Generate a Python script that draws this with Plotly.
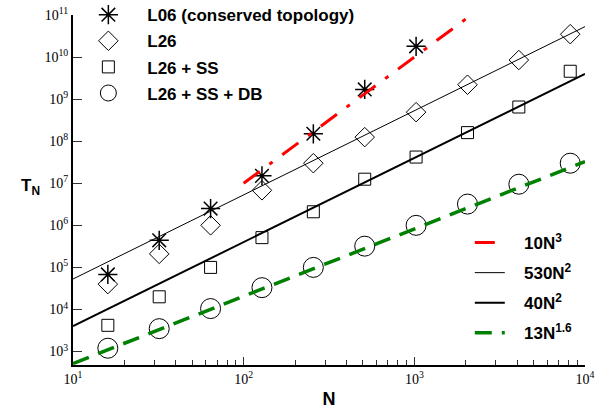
import plotly.graph_objects as go

# ---- data ----
N_all = [16, 32, 64, 128, 256, 512, 1024, 2048, 4096, 8192]
N_l06 = [16, 32, 64, 128, 256, 512, 1024]
T_l06 = [6.8e4, 4.4e5, 2.5e6, 1.5e7, 1.5e8, 1.7e9, 1.8e10]
T_l26 = [4.0e4, 2.1e5, 1.0e6, 6.8e6, 3.0e7, 1.25e8, 4.9e8, 2.2e9, 8.5e9, 3.5e10]
T_ss = [4.2e3, 2.0e4, 1.0e5, 5.1e5, 2.1e6, 1.25e7, 4.2e7, 1.6e8, 6.5e8, 4.6e9]
T_db = [1.2e3, 3.5e3, 1.05e4, 3.3e4, 1.0e5, 3.2e5, 1.0e6, 3.2e6, 9.5e6, 3.0e7]

# fit lines (power laws, drawn between end points)
fit3_N = [100, 2154]
fit3_T = [1.0e7, 1.0e11]          # 10 N^3
fitA_N = [10, 10000]
fitA_T = [5.3e4, 5.3e10]          # 530 N^2
fitB_N = [10, 10000]
fitB_T = [4.0e3, 4.0e9]           # 40 N^2
fitC_N = [10, 10000]
fitC_T = [518, 3.27e7]            # 13 N^1.6

x_ticks = [10, 100, 1000, 10000]
x_ticktext = ["10<sup>1</sup>", "10<sup>2</sup>", "10<sup>3</sup>", "10<sup>4</sup>"]
y_ticks = [10 ** k for k in range(3, 12)]
y_ticktext = ["10<sup>%d</sup>" % k for k in range(3, 12)]

SP = "\u00a0" * 4
SP2 = "\u00a0" * 3

fig = go.Figure()

mk_line = dict(color="black", width=1)
fig.add_trace(go.Scatter(x=N_l06, y=T_l06, mode="markers", name=SP + "<b>L06 (conserved topology)</b>",
                         marker=dict(symbol="asterisk-open", size=16, color="black", line=dict(color="black", width=1.5)),
                         legend="legend", legendgroup="a"))
fig.add_trace(go.Scatter(x=N_all, y=T_l26, mode="markers", name=SP + "<b>L26</b>",
                         marker=dict(symbol="diamond-open", size=15, color="black", line=mk_line),
                         legend="legend", legendgroup="b"))
fig.add_trace(go.Scatter(x=N_all, y=T_ss, mode="markers", name=SP + "<b>L26 + SS</b>",
                         marker=dict(symbol="square-open", size=12, color="black", line=mk_line),
                         legend="legend", legendgroup="c"))
fig.add_trace(go.Scatter(x=N_all, y=T_db, mode="markers", name=SP + "<b>L26 + SS + DB</b>",
                         marker=dict(symbol="circle-open", size=20, color="black", line=mk_line),
                         legend="legend", legendgroup="d"))

fig.add_trace(go.Scatter(x=fit3_N, y=fit3_T, mode="lines", name=SP2 + "<b>10N<sup>3</sup></b>",
                         line=dict(color="#ff0000", width=3, dash="20px,12px,4px,12px"),
                         legend="legend2", legendgroup="e"))
fig.add_trace(go.Scatter(x=fitA_N, y=fitA_T, mode="lines", name=SP2 + "<b>530N<sup>2</sup></b>",
                         line=dict(color="black", width=1),
                         legend="legend2", legendgroup="f"))
fig.add_trace(go.Scatter(x=fitB_N, y=fitB_T, mode="lines", name=SP2 + "<b>40N<sup>2</sup></b>",
                         line=dict(color="black", width=2),
                         legend="legend2", legendgroup="g"))
fig.add_trace(go.Scatter(x=fitC_N, y=fitC_T, mode="lines", name=SP2 + "<b>13N<sup>1.6</sup></b>",
                         line=dict(color="#008000", width=3.5, dash="17px,10px"),
                         legend="legend2", legendgroup="h"))

tickfont = dict(family="Liberation Serif", size=14, color="black")
fig.update_layout(
    width=601, height=409,
    margin=dict(l=73, r=16, t=15, b=44, autoexpand=False),
    paper_bgcolor="white", plot_bgcolor="white",
    showlegend=True,
    xaxis=dict(type="log", range=[1, 4], showgrid=False, zeroline=False,
               showline=True, linecolor="black", linewidth=2,
               ticks="inside", ticklen=8, tickwidth=1, tickcolor="#333",
               tickvals=x_ticks, ticktext=x_ticktext, tickfont=tickfont,
               minor=dict(ticks="inside", ticklen=5, tickwidth=1, tickcolor="#333", dtick="D1", showgrid=False),
               title=dict(text="<b>N</b>", font=dict(family="Liberation Sans", size=18, color="black"), standoff=10)),
    yaxis=dict(type="log", range=[2.68, 11], showgrid=False, zeroline=False,
               showline=True, linecolor="black", linewidth=2,
               ticks="inside", ticklen=9, tickwidth=1, tickcolor="#333",
               tickvals=y_ticks, ticktext=y_ticktext, tickfont=tickfont),
    legend=dict(x=0.03, y=1.051, xanchor="left", yanchor="top", bgcolor="rgba(0,0,0,0)",
                font=dict(family="Liberation Sans", size=17, color="black"),
                tracegroupgap=1, traceorder="grouped", itemsizing="trace"),
    legend2=dict(x=0.775, y=0.40, xanchor="left", yanchor="top", bgcolor="rgba(0,0,0,0)",
                 font=dict(family="Liberation Sans", size=17, color="black"),
                 tracegroupgap=5, traceorder="grouped"),
    annotations=[dict(text="<b>T<sub>N</sub></b>", x=(30 - 73) / 512, y=(365 - 187) / 350,
                      xref="paper", yref="paper", xanchor="center", yanchor="middle",
                      showarrow=False, font=dict(family="Liberation Sans", size=17, color="black"))],
)

fig.write_html("out.html")
